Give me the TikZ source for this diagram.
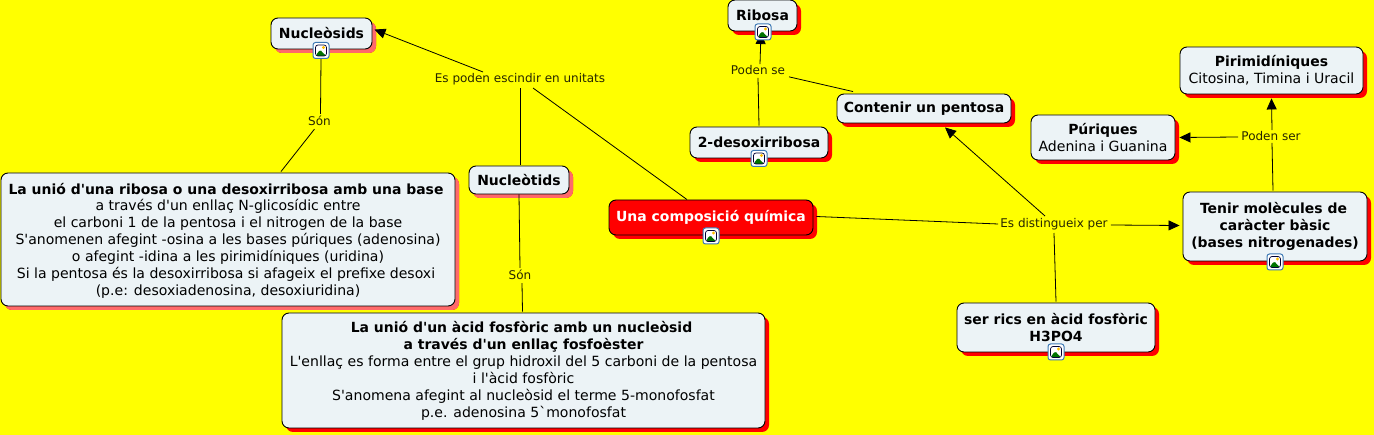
\documentclass[tikz,border=0pt]{standalone}
\usepackage{fontspec}
\newfontfamily\mapfont{DejaVu Sans}
\usetikzlibrary{arrows.meta,shadows,calc}
\pgfdeclarelayer{iconlayer}
\pgfsetlayers{main,iconlayer}
\definecolor{bg}{HTML}{FFFF00}
\definecolor{boxfill}{HTML}{ECF3F6}
\definecolor{salmon}{HTML}{FF6A6A}
\definecolor{iconblue}{HTML}{3C78B4}
\newcommand\bd[1]{{\fontsize{13.95}{17}\selectfont\bfseries #1}}
\tikzset{
 x=1pt,y=-1pt,
 concept/.style={draw=black,line width=0.9pt,fill=boxfill,rounded corners=7pt,align=center,inner sep=0pt,
   font=\mapfont\fontsize{14.05}{17}\selectfont,text=black,
   general shadow={shadow xshift=4pt,shadow yshift=-4pt,fill=red,draw=none,opacity=1}},
 palebox/.style={concept,general shadow={shadow xshift=4pt,shadow yshift=-4pt,fill=salmon,draw=none,opacity=1}},
 redbox/.style={concept,fill=red,text=white},
 linking/.style={font=\mapfont\fontsize{12}{14}\selectfont,inner sep=0pt,text=black!85!bg},
 link/.style={line width=0.8pt,draw=black},
 arrowlink/.style={link,-{Triangle[length=11pt,width=10pt]}},
 iconbox/.style={draw=iconblue,line width=1pt,fill=white,rounded corners=2.5pt,minimum size=16pt,inner sep=0pt,
   path picture={
     \def\pc{path picture bounding box}
     \fill[white] (\pc.south west) rectangle (\pc.north east);
     \fill[green!45!black] ([shift={(2.5pt,2.5pt)}]\pc.south west) -- ([shift={(7pt,9pt)}]\pc.south west) -- ([shift={(9.5pt,6pt)}]\pc.south west) -- ([shift={(13.5pt,2.5pt)}]\pc.south west) -- cycle;
     \draw[black!80!blue,line width=0.7pt] ([shift={(2.5pt,-2.5pt)}]\pc.north west) rectangle ([shift={(-2.5pt,2.5pt)}]\pc.south east);
     \fill[orange!50!yellow] ([shift={(10.5pt,11pt)}]\pc.south west) circle (1.6pt);
   }},
}
\begin{document}
\begin{tikzpicture}
\useasboundingbox (0,0) rectangle (1374,435);
\fill[bg] (0,0) rectangle (1374,435);
% concepts
\node[palebox,minimum width=101pt,minimum height=31pt] (nos) at (321.5,33.5) {\bd{Nucleòsids}};
\node[concept,minimum width=69pt,minimum height=31pt] (rib) at (762.5,15.5) {\bd{Ribosa}};
\node[concept,minimum width=138pt,minimum height=31pt] (des) at (759,142.5) {\bd{2-desoxirribosa}};
\node[concept,minimum width=174pt,minimum height=29pt] (pen) at (924,108.5) {\bd{Contenir un pentosa}};
\node[concept,minimum width=183pt,minimum height=47pt] (pir) at (1271.5,70.5) {\bd{Pirimidíniques}\\Citosina, Timina i Uracil};
\node[concept,minimum width=144pt,minimum height=45pt] (pur) at (1103,137.5) {\bd{Púriques}\\Adenina i Guanina};
\node[concept,minimum width=184pt,minimum height=69pt] (ten) at (1275,226.5) {\mbox{\bd{Tenir molècules de}\kern3pt}\\\bd{caràcter bàsic}\\\bd{(bases nitrogenades)}};
\node[concept,minimum width=198pt,minimum height=49pt] (ric) at (1056,327.5) {\bd{ser rics en àcid fosfòric}\\\bd{H3PO4}};
\node[redbox,minimum width=204pt,minimum height=35pt] (com) at (711,217.5) {\bd{Una composició química}};
\node[palebox,minimum width=100pt,minimum height=28pt] (tid) at (519,180) {\bd{Nucleòtids}};
\node[palebox,minimum width=454pt,minimum height=133pt,text depth=0pt] (uni) at (228,239.5) {\raisebox{-1pt}{\bd{La unió d'una ribosa o una desoxirribosa amb una base}\kern4pt}\\[0.3pt]a través d'un enllaç N-glicosídic entre\\el carboni 1 de la pentosa i el nitrogen de la base\\S'anomenen afegint -osina a les bases púriques (adenosina)\\o afegint -idina a les pirimidíniques (uridina)\\\mbox{Si la pentosa és la desoxirribosa si afageix el prefixe desoxi\kern4pt}\\(p.e: desoxiadenosina, desoxiuridina)};
\node[concept,minimum width=483pt,minimum height=115pt] (aci) at (523.5,370.5) {\mbox{\bd{La unió d'un àcid fosfòric amb un nucleòsid}\kern4pt}\\\bd{a través d'un enllaç fosfoèster}\\L'enllaç es forma entre el grup hidroxil del 5 carboni de la pentosa\\i l'àcid fosfòric\\S'anomena afegint al nucleòsid el terme 5-monofosfat\\p.e. adenosina 5`monofosfat};
% linking phrases
\node[linking] (l1) at (520,79) {Es poden escindir en unitats};
\node[linking] (l2) at (319.5,121) {Són};
\node[linking] (l3) at (520,275) {Són};
\node[linking] (l4) at (758,70) {Poden se};
\node[linking] (l5) at (1054,224) {Es distingueix per};
\node[linking] (l6) at (1271,136) {Poden ser};
% icons, on a layer above the connectors
\begin{pgfonlayer}{iconlayer}
\node[iconbox] (i1) at (321,50.5) {};
\node[iconbox] (i2) at (763,32) {};
\node[iconbox] (i3) at (759,158.5) {};
\node[iconbox] (i4) at (711,236) {};
\node[iconbox] (i5) at (1275,262) {};
\node[iconbox] (i6) at (1056,352) {};
\end{pgfonlayer}
% connectors
\draw[arrowlink] ([shift={(-37,-1)}]l1.north) -- ([shift={(2,12)}]nos.north east);
\draw[link] ([shift={(0,3)}]l1.south) -- ([shift={(1,-1)}]tid.north);
\draw[link] ([shift={(13,3)}]l1.south) -- ([shift={(-24,0)}]com.north);
\draw[link] (i1.south) -- ([shift={(1,-2)}]l2.north);
\draw[link] ([shift={(-5,3)}]l2.south) -- ([shift={(53,-1)}]uni.north);
\draw[link] (tid.south) -- ([shift={(0,-2)}]l3.north);
\draw[link] ([shift={(2,3)}]l3.south) -- ([shift={(-1,-1)}]aci.north);
\draw[link] ([shift={(0,-1)}]des.north) -- ([shift={(0,3)}]l4.south);
\draw[arrowlink] ([shift={(2,-1)}]l4.north) -- ([shift={(-2,1)}]i2.center);
\draw[link] ([shift={(-71,-2)}]pen.north) -- ([shift={(31,2)}]l4.south);
\draw[link] ([shift={(3,-1)}]com.east) -- ([shift={(-2,0)}]l5.west);
\draw[arrowlink] ([shift={(-9,-2)}]l5.north) -- ([shift={(21,4)}]pen.south);
\draw[link] ([shift={(2,-1)}]ric.north -| l5.south) -- ([shift={(0,3)}]l5.south);
\draw[arrowlink] ([shift={(3,1)}]l5.east) -- ([shift={(-3,-1)}]ten.west);
\draw[link] ([shift={(-2,-1)}]ten.north) -- ([shift={(1,2)}]l6.south);
\draw[arrowlink] ([shift={(1,-1)}]l6.north) -- ([shift={(0,4)}]pir.south);
\draw[arrowlink] ([shift={(-3,1)}]l6.west) -- ([shift={(4,0)}]pur.east);
\end{tikzpicture}
\end{document}
